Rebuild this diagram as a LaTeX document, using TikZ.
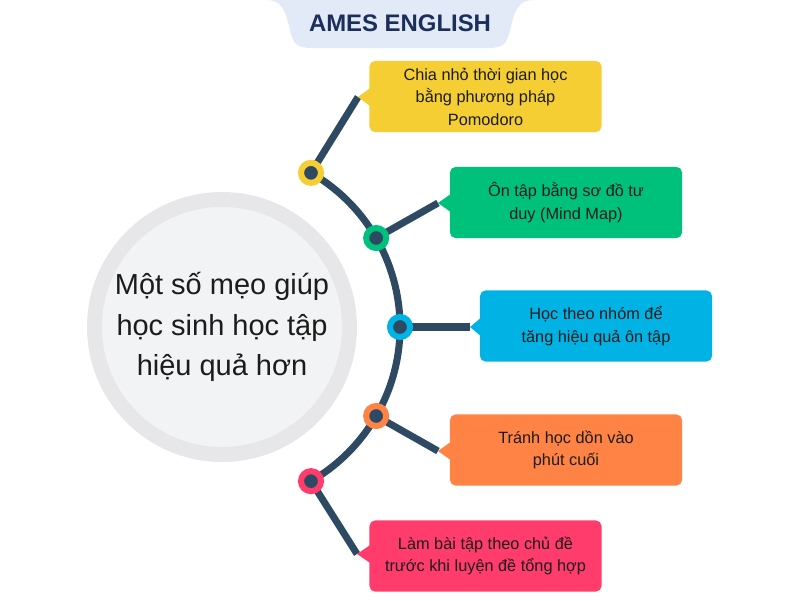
\documentclass[tikz,border=0pt]{standalone}
\usepackage{fontspec}
\setmainfont{Liberation Sans}
\usetikzlibrary{calc, positioning}

\definecolor{spinec}{HTML}{2E4A62}
\definecolor{tipyel}{HTML}{F4CE33}
\definecolor{tipgrn}{HTML}{00C17B}
\definecolor{tipblu}{HTML}{00B3E4}
\definecolor{tiporg}{HTML}{FF8345}
\definecolor{tippnk}{HTML}{FF3C6C}
\definecolor{ringgray}{HTML}{E7E7EA}
\definecolor{coregray}{HTML}{F2F3F5}
\definecolor{tabblue}{HTML}{E2E9F7}
\definecolor{titlenavy}{HTML}{1B2E5C}
\definecolor{txt}{HTML}{1C1C1C}

\tikzset{
  spine/.style={draw=spinec, line width=5pt},
  dot/.style={circle, fill=spinec, draw=#1, line width=4.3pt, minimum size=0.5cm, inner sep=0pt},
  tipbox/.style={fill=#1, rounded corners=4pt, minimum width=5.8cm, minimum height=1.78cm,
    align=center, text=txt, font=\fontsize{11.6}{16}\selectfont, inner sep=0pt},
}

\begin{document}
\begin{tikzpicture}[x=0.025cm, y=-0.025cm]
    \useasboundingbox (0,0) rectangle (800,600);

    % --- Title tab ---
    \fill[tabblue] (266,0) .. controls (282,0) and (285,10) .. (290,30)
      .. controls (293,44) and (297,48) .. (312,48) -- (488,48)
      .. controls (503,48) and (507,44) .. (510,30)
      .. controls (515,10) and (518,0) .. (534,0) -- cycle;
    \node[text=titlenavy, font=\bfseries\fontsize{17}{20}\selectfont] (title) at (400,23) {AMES ENGLISH};

    % --- Central circle ---
    \node[circle, fill=coregray, draw=ringgray, line width=10.6pt, minimum size=6.375cm,
      inner sep=0pt, align=center, text=txt, font=\fontsize{20.6}{28.6}\selectfont]
      (core) at (222,327) {Một số mẹo giúp\\học sinh học tập\\hiệu quả hơn};

    % --- Points on the arc ---
    \coordinate (p1) at ($(core.center)+(-60:178)$);
    \coordinate (p2) at ($(core.center)+(-30:178)$);
    \coordinate (p3) at ($(core.center)+(0:178)$);
    \coordinate (p4) at ($(core.center)+(30:178)$);
    \coordinate (p5) at ($(core.center)+(60:178)$);

    % --- Elbows of the connectors ---
    \coordinate (e1) at (358,97);
    \coordinate (e2) at (438,203);
    \coordinate (e3) at (470,327);
    \coordinate (e4) at (438,451);
    \coordinate (e5) at (357,554);

    % --- Arc and connectors ---
    \draw[spine] (p1) arc[start angle=-60, end angle=60, radius=178];
    \draw[spine] (p1) -- (e1);
    \draw[spine] (p2) -- (e2);
    \draw[spine] (p3) -- (e3);
    \draw[spine] (p4) -- (e4);
    \draw[spine] (p5) -- (e5);

    % --- Dots ---
    \node[dot=tipyel] (d1) at (p1) {};
    \node[dot=tipgrn] (d2) at (p2) {};
    \node[dot=tipblu] (d3) at (p3) {};
    \node[dot=tiporg] (d4) at (p4) {};
    \node[dot=tippnk] (d5) at (p5) {};

    % --- Tip boxes ---
    \node[tipbox=tipyel] (b1) at (485.5,96.5) {Chia nhỏ thời gian học\\bằng phương pháp\\Pomodoro};
    \node[tipbox=tipgrn] (b2) at (566,202.5) {Ôn tập bằng sơ đồ tư\\duy (Mind Map)};
    \node[tipbox=tipblu] (b3) at (596,326) {Học theo nhóm để\\tăng hiệu quả ôn tập};
    \node[tipbox=tiporg] (b4) at (566,450) {Tránh học dồn vào\\phút cuối};
    \node[tipbox=tippnk] (b5) at (485.5,556) {Làm bài tập theo chủ đề\\trước khi luyện đề tổng hợp};

    % --- Pointers ---
    \fill[tipyel] (e1) -- ($(e1 -| b1.west)+(1,-9)$) -- ($(e1 -| b1.west)+(1,9)$) -- cycle;
    \fill[tipgrn] (e2) -- ($(e2 -| b2.west)+(1,-9)$) -- ($(e2 -| b2.west)+(1,9)$) -- cycle;
    \fill[tipblu] (e3) -- ($(e3 -| b3.west)+(1,-9)$) -- ($(e3 -| b3.west)+(1,9)$) -- cycle;
    \fill[tiporg] (e4) -- ($(e4 -| b4.west)+(1,-9)$) -- ($(e4 -| b4.west)+(1,9)$) -- cycle;
    \fill[tippnk] (e5) -- ($(e5 -| b5.west)+(1,-9)$) -- ($(e5 -| b5.west)+(1,9)$) -- cycle;
\end{tikzpicture}
\end{document}
